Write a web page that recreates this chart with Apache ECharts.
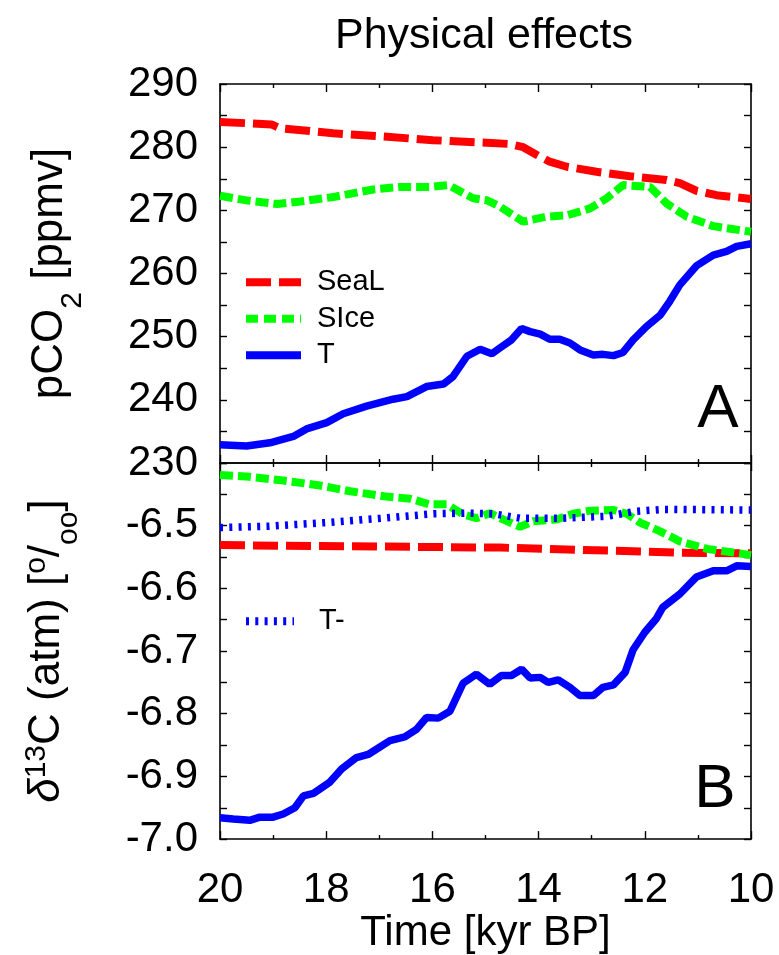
<!DOCTYPE html>
<html>
<head>
<meta charset="utf-8">
<script src="https://cdn.jsdelivr.net/npm/echarts@6/dist/echarts.min.js"></script>
<style>html,body{margin:0;padding:0;background:#fff;}#c{width:779px;height:955px;}</style>
</head>
<body>
<div id="c"></div>
<script>
// ---- Data (time in kyr BP) ----
const seaLTopT = [20, 19.03, 18.87, 17.87, 16.93, 15.99, 14.98, 14.54, 14.29, 14.04, 13.79, 13.47, 12.91, 12.28, 11.59, 11.34, 11.03, 10.65, 10.0];
const seaLTopV = [284.0, 283.6, 283.0, 282.2, 281.7, 281.1, 280.7, 280.5, 280.0, 278.8, 277.7, 276.9, 276.1, 275.4, 274.8, 274.3, 273.1, 272.4, 271.8];

const sIceTopT = [20, 19.44, 18.93, 18.49, 17.87, 17.12, 16.61, 16.05, 15.70, 15.23, 14.98, 14.73, 14.29, 13.85, 13.47, 13.03, 12.72, 12.41, 11.90, 11.59, 11.21, 10.71, 10.0];
const sIceTopV = [272.3, 271.5, 271.0, 271.4, 272.1, 273.3, 273.7, 273.7, 274.0, 271.9, 271.6, 270.6, 268.2, 269.0, 269.2, 270.3, 271.9, 274.0, 273.7, 271.1, 269.0, 267.5, 266.6];

const tTopT = [20, 19.50, 19.06, 18.62, 18.37, 17.99, 17.68, 17.24, 16.74, 16.48, 16.11, 15.79, 15.61, 15.35, 15.10, 14.88, 14.73, 14.51, 14.32, 14.16, 13.97, 13.79, 13.60, 13.41, 13.22, 12.97, 12.79, 12.59, 12.41, 12.22, 11.97, 11.71, 11.53, 11.34, 11.03, 10.71, 10.46, 10.27, 10.0];
const tTopV = [232.9, 232.7, 233.2, 234.2, 235.4, 236.4, 237.8, 239.0, 240.1, 240.5, 242.1, 242.5, 243.7, 246.9, 248.0, 247.3, 248.2, 249.5, 251.3, 250.8, 250.4, 249.6, 249.6, 249.0, 247.9, 247.1, 247.2, 247.0, 247.5, 249.5, 251.6, 253.4, 255.6, 258.2, 261.2, 262.9, 263.5, 264.3, 264.7];

const seaLBotT = [20, 14.73, 12.59, 11.34, 10.0];
const seaLBotV = [-6.531, -6.535, -6.540, -6.543, -6.544];

const sIceBotT = [20, 19.44, 18.81, 18.18, 17.55, 16.92, 16.42, 16.05, 15.73, 15.42, 15.17, 14.92, 14.67, 14.35, 14.10, 13.66, 13.35, 13.03, 12.59, 12.34, 12.09, 11.71, 11.34, 10.83, 10.40, 10.0];
const sIceBotV = [-6.419, -6.422, -6.428, -6.435, -6.445, -6.453, -6.457, -6.466, -6.466, -6.482, -6.488, -6.480, -6.490, -6.502, -6.493, -6.490, -6.481, -6.476, -6.475, -6.481, -6.495, -6.509, -6.525, -6.537, -6.542, -6.547];

const tMinusBotT = [20, 19.12, 17.99, 16.92, 15.98, 15.35, 14.85, 14.35, 13.54, 12.72, 12.16, 11.66, 10.0];
const tMinusBotV = [-6.503, -6.501, -6.495, -6.488, -6.481, -6.480, -6.481, -6.488, -6.488, -6.485, -6.477, -6.474, -6.475];

const tBotT = [20, 19.75, 19.44, 19.25, 19.00, 18.81, 18.59, 18.43, 18.24, 17.93, 17.71, 17.43, 17.21, 16.80, 16.52, 16.30, 16.11, 15.89, 15.67, 15.42, 15.17, 14.92, 14.70, 14.51, 14.32, 14.16, 13.97, 13.82, 13.63, 13.41, 13.22, 12.97, 12.79, 12.59, 12.37, 12.22, 12.00, 11.78, 11.66, 11.34, 11.03, 10.71, 10.46, 10.27, 10.0];
const tBotV = [-6.966, -6.968, -6.970, -6.965, -6.965, -6.960, -6.950, -6.931, -6.927, -6.909, -6.888, -6.870, -6.865, -6.843, -6.837, -6.825, -6.806, -6.807, -6.796, -6.751, -6.737, -6.753, -6.739, -6.739, -6.729, -6.743, -6.742, -6.750, -6.746, -6.758, -6.771, -6.771, -6.758, -6.754, -6.734, -6.698, -6.670, -6.648, -6.630, -6.609, -6.582, -6.572, -6.572, -6.564, -6.565];

const xTicks = ['20', '18', '16', '14', '12', '10'];
const topTicks = ['230', '240', '250', '260', '270', '280', '290'];
const botTicks = ['-7.0', '-6.9', '-6.8', '-6.7', '-6.6', '-6.5'];

const zip = (t, v) => t.map((x, i) => [x, v[i]]);

const FONT = 'Liberation Sans, Arial, Helvetica, sans-serif';
const RED = '#ff0000', GREEN = '#00ff00', BLUE = '#0000ff';

const axisLine = { show: true, onZero: false, lineStyle: { color: '#000', width: 1.6 } };

function xAx(grid, pos, labels) {
  return {
    type: 'value', gridIndex: grid, position: pos, min: 10, max: 20, interval: 2, inverse: true,
    axisLine: axisLine,
    axisTick: { show: true, inside: true, length: 8, lineStyle: { color: '#000', width: 1.4 } },
    minorTick: { show: true, splitNumber: 2, length: 4, lineStyle: { color: '#000', width: 1.4 } },
    splitLine: { show: false }, minorSplitLine: { show: false },
    axisLabel: labels ? {
      show: true, fontSize: 42, color: '#000', fontFamily: FONT, margin: 30,
      showMinLabel: true, showMaxLabel: true,
      formatter: v => xTicks.includes(String(Math.round(v))) ? String(Math.round(v)) : ''
    } : { show: false },
    name: labels ? 'Time [kyr BP]' : '',
    nameLocation: 'middle', nameGap: 72,
    nameTextStyle: { fontSize: 42, color: '#000', fontFamily: FONT }
  };
}

function yAx(grid, pos, min, max, interval, labelFn, name, rich) {
  return {
    type: 'value', gridIndex: grid, position: pos, min: min, max: max, interval: interval,
    axisLine: axisLine,
    axisTick: { show: true, inside: true, length: 7, lineStyle: { color: '#000', width: 1.4 } },
    minorTick: { show: true, splitNumber: 2, length: 7, lineStyle: { color: '#000', width: 1.4 } },
    splitLine: { show: false }, minorSplitLine: { show: false },
    axisLabel: labelFn ? {
      show: true, fontSize: 42, color: '#000', fontFamily: FONT, margin: 22,
      showMinLabel: true, showMaxLabel: true, formatter: labelFn
    } : { show: false },
    name: name || '', nameLocation: 'middle', nameRotate: 90, nameGap: 148,
    nameTextStyle: { fontSize: 44, color: '#000', fontFamily: FONT, rich: rich || {} }
  };
}

const richTop = {
  n: { fontSize: 44, fontFamily: FONT, color: '#000' },
  sub: { fontSize: 30, fontFamily: FONT, color: '#000', verticalAlign: 'bottom', padding: [0, 0, -16, 0] }
};
const richBot = {
  n: { fontSize: 44, fontFamily: FONT, color: '#000' },
  d: { fontSize: 44, fontFamily: FONT, color: '#000', fontStyle: 'italic' },
  sup: { fontSize: 30, fontFamily: FONT, color: '#000', verticalAlign: 'top', padding: [0, 0, 20, 0] },
  sub: { fontSize: 30, fontFamily: FONT, color: '#000', verticalAlign: 'bottom', padding: [0, 0, -12, 0] }
};

const hiddenSymbol = { opacity: 0, color: 'rgba(0,0,0,0)', borderWidth: 0 };

const option = {
  backgroundColor: '#fff',
  animation: false,
  grid: [
    { left: 220, top: 84, width: 531, height: 379, containLabel: false },
    { left: 220, top: 463, width: 531, height: 379, containLabel: false }
  ],
  xAxis: [xAx(0, 'bottom', false), xAx(0, 'top', false), xAx(1, 'top', false), xAx(1, 'bottom', true)],
  yAxis: [
    yAx(0, 'left', 230, 290, 10, v => { const s = String(Math.round(v)); return topTicks.includes(s) ? s : ''; },
      '{n|pCO}{sub|2}{n| [ppmv]}', richTop),
    yAx(0, 'right', 230, 290, 10, null),
    yAx(1, 'left', -7.0, -6.4, 0.1, v => { const s = v.toFixed(1); return botTicks.includes(s) ? s : ''; },
      '{d|δ}{sup|13}{n|C (atm) [}{sup|o}{n|/}{sub|oo}{n|]}', richBot),
    yAx(1, 'right', -7.0, -6.4, 0.1, null)
  ],
  legend: [
    {
      data: [
        { name: 'SeaL', itemStyle: hiddenSymbol, lineStyle: { width: 8, type: [25, 8], color: RED } },
        { name: 'SIce', itemStyle: hiddenSymbol, lineStyle: { width: 8, type: [12, 6], color: GREEN } },
        { name: 'T', itemStyle: hiddenSymbol, lineStyle: { width: 8, type: 'solid', color: BLUE } }
      ],
      orient: 'vertical', left: 242, top: 264, padding: 0,
      itemWidth: 55, itemHeight: 10, itemGap: 0, selectedMode: false,
      textStyle: { fontSize: 29, color: '#000', fontFamily: FONT, lineHeight: 36.5, padding: [0, 0, 0, 11] }
    },
    {
      data: [
        { name: 'T-', itemStyle: hiddenSymbol, lineStyle: { width: 8, type: [3, 6.3], color: BLUE } }
      ],
      orient: 'vertical', left: 242, top: 603, padding: 0,
      itemWidth: 48, itemHeight: 10, itemGap: 0, selectedMode: false,
      textStyle: { fontSize: 29, color: '#000', fontFamily: FONT, lineHeight: 36.5, padding: [0, 0, 0, 20] }
    }
  ],
  graphic: [
    { type: 'text', x: 484, y: 36, style: { text: 'Physical effects', fontSize: 43, fontFamily: FONT, fill: '#000', align: 'center', verticalAlign: 'middle' } },
    { type: 'text', x: 718, y: 410, style: { text: 'A', fontSize: 62, fontFamily: FONT, fill: '#000', align: 'center', verticalAlign: 'middle' } },
    { type: 'text', x: 715, y: 790, style: { text: 'B', fontSize: 62, fontFamily: FONT, fill: '#000', align: 'center', verticalAlign: 'middle' } }
  ],
  series: [
    { name: 'SeaL', type: 'line', xAxisIndex: 0, yAxisIndex: 0, data: zip(seaLTopT, seaLTopV), symbol: 'none', z: 3,
      lineStyle: { color: RED, width: 8, type: [25, 8] }, itemStyle: { color: RED } },
    { name: 'SIce', type: 'line', xAxisIndex: 0, yAxisIndex: 0, data: zip(sIceTopT, sIceTopV), symbol: 'none', z: 3,
      lineStyle: { color: GREEN, width: 8, type: [13, 5] }, itemStyle: { color: GREEN } },
    { name: 'T', type: 'line', xAxisIndex: 0, yAxisIndex: 0, data: zip(tTopT, tTopV), symbol: 'none', z: 3,
      lineStyle: { color: BLUE, width: 7.5 }, itemStyle: { color: BLUE } },
    { name: 'SeaL', type: 'line', xAxisIndex: 3, yAxisIndex: 2, data: zip(seaLBotT, seaLBotV), symbol: 'none', z: 3,
      lineStyle: { color: RED, width: 8, type: [25, 8] }, itemStyle: { color: RED } },
    { name: 'SIce', type: 'line', xAxisIndex: 3, yAxisIndex: 2, data: zip(sIceBotT, sIceBotV), symbol: 'none', z: 3,
      lineStyle: { color: GREEN, width: 8, type: [13, 5] }, itemStyle: { color: GREEN } },
    { name: 'T', type: 'line', xAxisIndex: 3, yAxisIndex: 2, data: zip(tBotT, tBotV), symbol: 'none', z: 3,
      lineStyle: { color: BLUE, width: 7.5 }, itemStyle: { color: BLUE } },
    { name: 'T-', type: 'line', xAxisIndex: 3, yAxisIndex: 2, data: zip(tMinusBotT, tMinusBotV), symbol: 'none', z: 4,
      lineStyle: { color: BLUE, width: 7.5, type: [3, 6.3] }, itemStyle: { color: BLUE } }
  ]
};

const chart = echarts.init(document.getElementById('c'), null, { renderer: 'canvas' });
chart.setOption(option);
</script>
</body>
</html>
